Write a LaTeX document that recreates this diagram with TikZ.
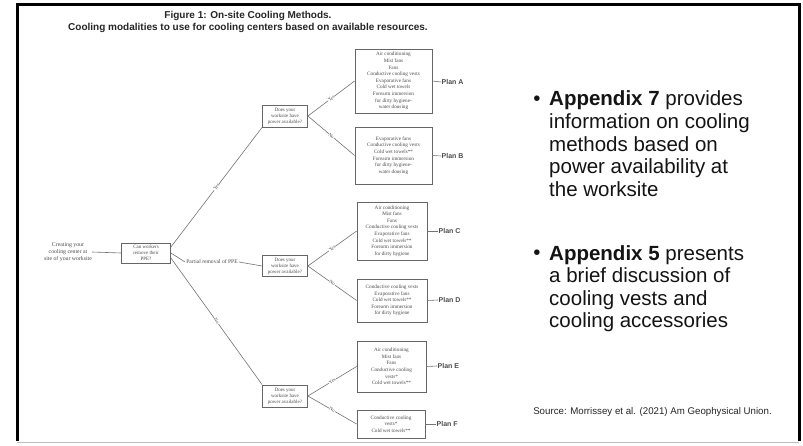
\documentclass[tikz,border=0pt]{standalone}
\usepackage{fontspec}
\setmainfont{Liberation Serif}
\newfontfamily\arialf{Liberation Sans}
\begin{document}
\begin{tikzpicture}[x=1pt,y=-1pt,
  qbox/.style={draw=black!60, line width=0.8pt, inner sep=0.5pt, align=center, text=black!70,
    font=\fontsize{5}{6}\selectfont},
  planbox/.style={draw=black!60, line width=0.8pt, inner sep=0pt, align=center, text=black!70,
    font=\fontsize{5.2}{6.6}\selectfont},
  conn/.style={draw=black!55, line width=0.6pt},
  yn/.style={font=\fontsize{4.8}{5}\selectfont, text=black!70, fill=white, inner sep=0.3pt, midway},
  planlbl/.style={font=\arialf\bfseries\fontsize{7}{8}\selectfont, text=black!70, inner sep=0.5pt, anchor=west},
  bul/.style={font=\arialf\fontsize{20.5}{22.6}\selectfont, text=black!92, inner sep=0pt, align=left, anchor=base west},
  ttl/.style={font=\arialf\bfseries\fontsize{10}{12}\selectfont, text=black!85, inner sep=0pt}
]
\useasboundingbox (0,0) rectangle (803,446);
% frame
\fill[white] (0,0) rectangle (803,446);
\draw[black, line width=3pt] (17,441) -- (17,4.5) -- (799,4.5) -- (799,441);
\draw[black!25, line width=0.8pt] (17,442) -- (799,442);

% title
\node[ttl] (t1) at (248,16) {Figure 1: On-site Cooling Methods.};
\node[ttl] (t2) at (248,28) {Cooling modalities to use for cooling centers based on available resources.};

% diagram
\node[align=center, inner sep=0pt, text=black!70, font=\fontsize{5.8}{7}\selectfont] (start) at (68,252)
  {Creating your\\cooling center at\\site of your worksite};
\node[qbox, minimum width=49pt, minimum height=20pt] (q1) at (146,253) {Can workers\\remove their\\PPE?};
\node[qbox, minimum width=45pt, minimum height=22pt] (q2) at (285,116) {Does your\\worksite have\\power available?};
\node[qbox, minimum width=45pt, minimum height=21pt] (q3) at (285,266) {Does your\\worksite have\\power available?};
\node[qbox, minimum width=45pt, minimum height=22pt] (q4) at (285,396) {Does your\\worksite have\\power available?};
\node[inner sep=1pt, text=black!70, font=\fontsize{5.6}{6}\selectfont] (partial) at (212,262) {Partial removal of PPE};

\node[planbox, minimum width=77pt, minimum height=64pt] (pa) at (393.5,81)
  {Air conditioning\\Mist fans\\Fans\\Conductive cooling vests\\Evaporative fans\\Cold wet towels\\Forearm immersion\\for dirty hygiene-\\water dousing};
\node[planbox, minimum width=77pt, minimum height=57pt] (pb) at (393.5,155.5)
  {Evaporative fans\\Conductive cooling vests\\Cold wet towels**\\Forearm immersion\\for dirty hygiene-\\water dousing};
\node[planbox, minimum width=70pt, minimum height=58pt] (pc) at (392,231)
  {Air conditioning\\Mist fans\\Fans\\Conductive cooling vests\\Evaporative fans\\Cold wet towels**\\Forearm immersion\\for dirty hygiene};
\node[planbox, minimum width=70pt, minimum height=43pt] (pd) at (392,300.5)
  {Conductive cooling vests\\Evaporative fans\\Cold wet towels**\\Forearm immersion\\for dirty hygiene};
\node[planbox, minimum width=69pt, minimum height=51pt] (pe) at (391.5,366.5)
  {Air conditioning\\Mist fans\\Fans\\Conductive cooling\\vests*\\Cold wet towels**};
\node[planbox, minimum width=68pt, minimum height=28pt] (pf) at (391,424)
  {Conductive cooling\\vests*\\Cold wet towels**};

\node[planlbl] (la) at (441,82) {Plan A};
\node[planlbl] (lb) at (441,156) {Plan B};
\node[planlbl] (lc) at (438,231) {Plan C};
\node[planlbl] (ld) at (438,300) {Plan D};
\node[planlbl] (le) at (437,366) {Plan E};
\node[planlbl] (lf) at (436,424) {Plan F};

\path[conn] (start.east) -- (q1.west);
\path[conn] ([yshift=6pt]q1.east) -- node[yn, rotate=52.5] {Yes} (q2.south west);
\path[conn] (q1.east) -- (partial.west);
\path[conn] (partial.east) -- (q3.west);
\path[conn] ([yshift=-5pt]q1.east) -- node[yn, rotate=-54] {No} (q4.north west);

\path[conn] (q2.east) -- node[yn, rotate=36.4] {Yes} (pa.west);
\path[conn] (q2.east) -- node[yn, rotate=-39.7] {No} (pb.west);
\path[conn] (q3.east) -- node[yn, rotate=35.3] {Yes} (pc.west);
\path[conn] (q3.east) -- node[yn, rotate=-34.9] {No} (pd.west);
\path[conn] (q4.east) -- node[yn, rotate=30.8] {Yes} (pe.west);
\path[conn] (q4.east) -- node[yn, rotate=-29.5] {No} (pf.west);

\path[conn] (pa.east) -- (la.west);
\path[conn] (pb.east) -- (lb.west);
\path[conn] (pc.east) -- (lc.west);
\path[conn] (pd.east) -- (ld.west);
\path[conn] (pe.east) -- (le.west);
\path[conn] (pf.east) -- (lf.west);

% right text (base anchor of a multi-line node = last line's baseline)
\node[bul, anchor=base] (b1) at (537,106) {\textbullet};
\node[bul] (t7) at (549,196.4) {\textbf{Appendix 7} provides\\information on cooling\\methods based on\\power availability at\\the worksite};
\node[bul, anchor=base] (b2) at (537,260) {\textbullet};
\node[bul] (t5) at (549,327.8) {\textbf{Appendix 5} presents\\a brief discussion of\\cooling vests and\\cooling accessories};

\node[font=\arialf\fontsize{9.7}{11}\selectfont, text=black!85, inner sep=0pt] (src) at (652.5,412)
  {Source: Morrissey et al. (2021) Am Geophysical Union.};
\end{tikzpicture}
\end{document}
